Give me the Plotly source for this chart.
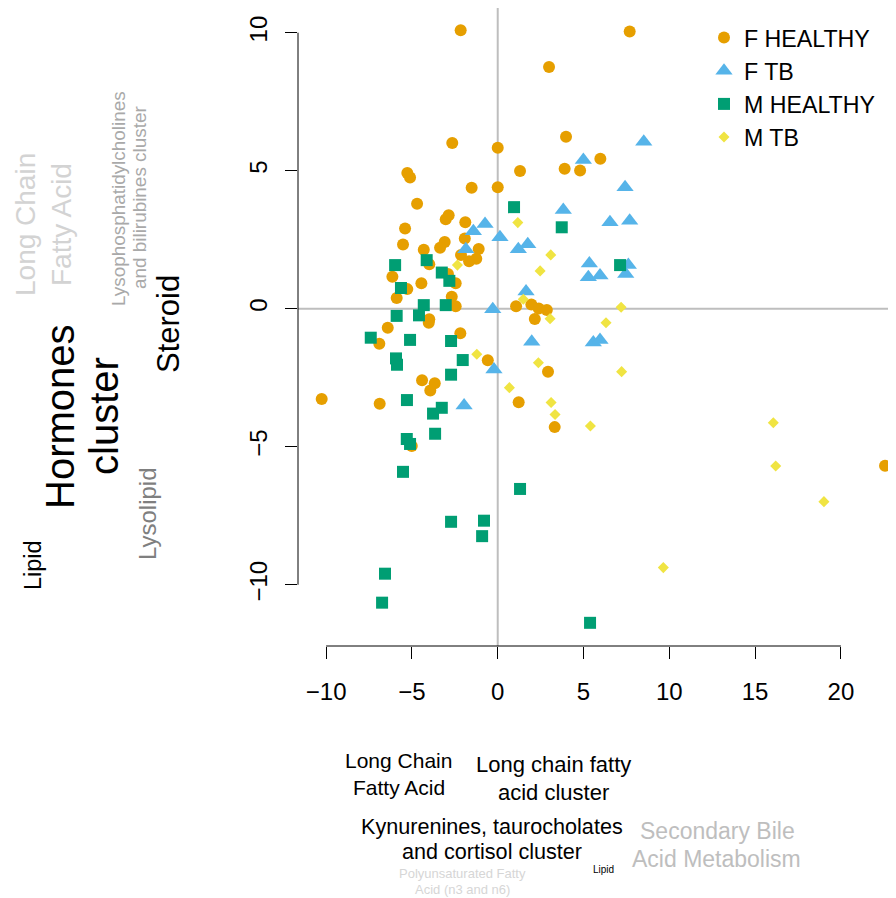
import plotly.graph_objects as go

# ---------------- data ----------------
fh_x = [-2.16, 7.69, 2.99, 3.98, -2.65, 0.00, 5.98, 3.90, 4.80, 1.30, -5.27, -5.11, -1.52, 0.00,
        -4.70, -2.86, -3.03, -1.89, -5.40, -1.92, -3.09, -5.52, -3.36, -1.11, -4.31, -2.14, -1.25,
        -1.67, -3.99, -2.90, -6.14, -4.45, -2.45, -5.27, -2.68, -5.89, -2.45, 1.07, 1.96, 2.39, 2.86,
        2.16, -3.99, -4.02, -6.41, -2.18, -6.90, -0.58, 2.93, -4.41, -3.67, -3.93, -10.26, -6.88,
        1.22, 3.32, -5.01, 22.57]
fh_y = [10.09, 10.04, 8.76, 6.23, 6.00, 5.83, 5.43, 5.07, 5.01, 4.99, 4.92, 4.75, 4.38, 4.40,
        3.80, 3.39, 3.24, 3.13, 2.91, 2.54, 2.42, 2.33, 2.21, 2.16, 2.14, 1.95, 1.81,
        1.72, 1.61, 1.26, 1.16, 0.92, 0.92, 0.71, 0.43, 0.39, 0.09, 0.09, 0.15, 0.01, -0.05,
        -0.37, -0.38, -0.51, -0.69, -0.89, -1.27, -1.87, -2.28, -2.59, -2.70, -2.96, -3.27, -3.44,
        -3.39, -4.29, -4.97, -5.69]

ftb_x = [8.51, 4.99, 7.42, 3.82, 6.54, 7.69, -1.42, -0.74, 0.13, -1.86, 1.20, 1.75, 5.34, 7.61,
         5.28, 5.96, 7.46, 1.65, -0.29, 1.98, 5.57, 5.96, -0.22, -1.96]
ftb_y = [6.05, 5.39, 4.40, 3.58, 3.13, 3.19, 2.81, 3.07, 2.59, 2.15, 2.15, 2.34, 1.64, 1.58,
         1.14, 1.20, 1.26, 0.62, -0.02, -1.20, -1.22, -1.13, -2.20, -3.51]

mh_x = [0.95, 3.73, 7.13, -5.98, -4.14, -3.26, -2.82, -5.64, -4.31, -3.03, -4.59, -5.89, -7.40,
        -5.11, -2.72, -5.93, -5.87, -2.04, -2.72, -5.29, -3.26, -3.77, -3.65, -5.30, -5.11, -5.52,
        1.30, -2.72, -0.80, -0.91, -6.57, -6.74, 5.38]
mh_y = [3.68, 2.95, 1.58, 1.58, 1.76, 1.31, 1.01, 0.75, 0.13, 0.13, -0.24, -0.26, -1.05,
        -1.13, -1.17, -1.80, -2.03, -1.86, -2.39, -3.31, -3.59, -3.80, -4.53, -4.72, -4.90, -5.91,
        -6.53, -7.72, -7.68, -8.24, -9.60, -10.65, -11.38]

mtb_x = [1.17, 3.09, 2.47, -2.35, 1.49, 3.05, 7.19, 6.31, 2.37, 7.22, -1.22, 0.68, 3.11, 3.34,
         5.40, 16.06, 16.20, 19.01, 9.65]
mtb_y = [3.12, 1.95, 1.37, 1.58, 0.34, -0.36, 0.05, -0.51, -1.96, -2.28, -1.65, -2.86, -3.40, -3.83,
         -4.25, -4.13, -5.70, -6.99, -9.38]

group_names = ["F HEALTHY", "F TB", "M HEALTHY", "M TB"]
x_ticks = [-10, -5, 0, 5, 10, 15, 20]
y_ticks = [-10, -5, 0, 5, 10]

# side labels: (text, x_px, y_px, font size, colour) -- page pixel positions
left_labels = [
    ("Long Chain", 25, 225, 28, "#D3D3D3"),
    ("Fatty Acid", 61, 225, 28, "#D3D3D3"),
    ("Lysophosphatidylcholines", 119, 199, 18.9, "#A9A9A9"),
    ("and bilirubines cluster", 139, 198, 18.9, "#A9A9A9"),
    ("Steroid", 168, 324, 31, "#000000"),
    ("Hormones", 60, 417, 40, "#000000"),
    ("cluster", 104, 416, 40, "#000000"),
    ("Lysolipid", 147, 514, 24, "#7F7F7F"),
    ("Lipid", 33, 565, 23.5, "#000000"),
]
bottom_labels = [
    ("Long Chain", 398, 760, 21, "#000000"),
    ("Fatty Acid", 399, 787, 21, "#000000"),
    ("Long chain fatty", 553, 764, 22, "#000000"),
    ("acid cluster", 553, 792, 22, "#000000"),
    ("Kynurenines, taurocholates", 492, 827, 21.6, "#000000"),
    ("and cortisol cluster", 492, 851, 21.6, "#000000"),
    ("Secondary Bile", 717, 831, 23, "#BEBEBE"),
    ("Acid Metabolism", 716, 859, 23, "#BEBEBE"),
    ("Lipid", 603, 869, 10, "#000000"),
    ("Polyunsaturated Fatty", 462, 874, 13, "#D6D6D6"),
    ("Acid (n3 and n6)", 462, 889, 13, "#D6D6D6"),
]

# ---------------- layout geometry ----------------
OFF = 8                      # page body margin
W, H = 896 - OFF, 898 - OFF
PL, PR, PT, PB = 298 - OFF, 896 - OFF, 0, 646 - OFF
XR = [-11.64, 23.21]
YR = [-12.22, 10.895]
FONT = "Liberation Sans, Arial, Helvetica, sans-serif"


def px_x(px):
    return (px - OFF - PL) / (PR - PL)


def px_y(py):
    return (PB - (py - OFF)) / (PB - PT)


fig = go.Figure()
styles = [
    ("circle", "#E69F00", 12, fh_x, fh_y),
    ("triangle-up", "#56B4E9", 15, ftb_x, ftb_y),
    ("square", "#009E73", 12, mh_x, mh_y),
    ("diamond", "#F0E442", 8.5, mtb_x, mtb_y),
]
for name, (sym, col, sz, xs, ys) in zip(group_names, styles):
    fig.add_trace(go.Scatter(x=xs, y=ys, mode="markers", name=name,
                             marker=dict(symbol=sym, color=col, size=sz, line=dict(width=0))))

shapes = [
    dict(type="line", xref="x", yref="paper", x0=0, x1=0, y0=0, y1=1,
         line=dict(color="#BEBEBE", width=2), layer="below"),
    dict(type="line", xref="paper", yref="y", x0=0, x1=1, y0=0, y1=0,
         line=dict(color="#BEBEBE", width=2), layer="below"),
    dict(type="line", xref="x", yref="paper", x0=min(x_ticks), x1=max(x_ticks), y0=0, y1=0,
         line=dict(color="black", width=1)),
    dict(type="line", xref="paper", yref="y", x0=0, x1=0, y0=min(y_ticks), y1=max(y_ticks),
         line=dict(color="black", width=1)),
]

annotations = []
for t, x, y, s, c in left_labels:
    annotations.append(dict(text=t, x=px_x(x), y=px_y(y), xref="paper", yref="paper",
                            showarrow=False, textangle=-90, xanchor="center", yanchor="middle",
                            font=dict(size=s, color=c, family=FONT)))
for t, x, y, s, c in bottom_labels:
    annotations.append(dict(text=t, x=px_x(x), y=px_y(y), xref="paper", yref="paper",
                            showarrow=False, xanchor="center", yanchor="middle",
                            font=dict(size=s, color=c, family=FONT)))

fig.update_layout(
    width=W, height=H,
    margin=dict(l=PL, r=W - PR, t=PT, b=H - PB, pad=0),
    paper_bgcolor="white", plot_bgcolor="white",
    font=dict(family=FONT, size=24, color="black"),
    showlegend=True,
    legend=dict(x=px_x(704), y=px_y(16), xanchor="left", yanchor="top",
                font=dict(size=23.2, family=FONT), bgcolor="rgba(0,0,0,0)",
                borderwidth=0, tracegroupgap=0),
    shapes=shapes,
    annotations=annotations,
)
fig.update_xaxes(range=XR, tickvals=x_ticks, ticks="outside", ticklen=12, tickwidth=1,
                 tickcolor="black", showgrid=False, zeroline=False, showline=False,
                 tickfont=dict(size=24, family=FONT), ticklabelstandoff=12)
fig.update_yaxes(range=YR, tickvals=y_ticks, ticks="outside", ticklen=12, tickwidth=1,
                 tickcolor="black", showgrid=False, zeroline=False, showline=False,
                 tickangle=-90, tickfont=dict(size=24, family=FONT), ticklabelstandoff=8)

fig.write_html("out.html")
